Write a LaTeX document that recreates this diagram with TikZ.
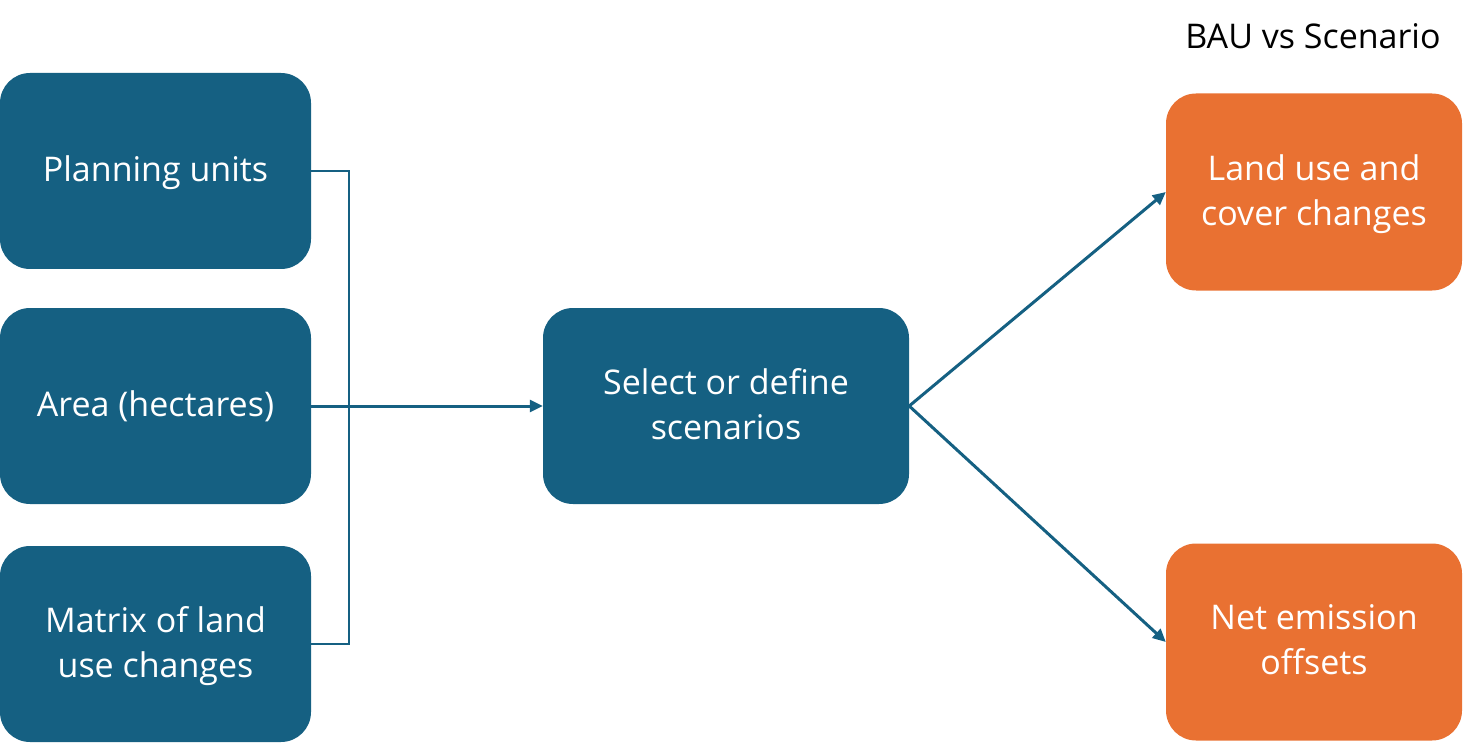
\documentclass[tikz,border=0pt]{standalone}
\usepackage{fontspec}
\setmainfont{Open Sans}
\usetikzlibrary{arrows.meta}
\definecolor{deepblue}{HTML}{156082}
\definecolor{warmorange}{HTML}{E97132}
\begin{document}
\begin{tikzpicture}[x=1pt,y=-1pt,
  card/.style={rounded corners=30pt, align=center, text=white,
    font=\fontsize{34}{45}\selectfont, inner sep=0pt, text depth=4pt},
  inbox/.style={card, fill=deepblue},
  outbox/.style={card, fill=warmorange},
  link/.style={draw=deepblue, line width=3pt},
  flow/.style={link, -{Triangle[length=13pt,width=12pt]}}]
\useasboundingbox (0,0) rectangle (1469,743);
% input boxes
\node[inbox, minimum width=311pt, minimum height=196pt] (pu) at (155.5,171) {Planning units};
\node[inbox, minimum width=311pt, minimum height=196pt] (ar) at (155.5,406) {Area (hectares)};
\node[inbox, minimum width=311pt, minimum height=196pt] (mx) at (155.5,644) {Matrix of land\\use changes};
% scenario box
\node[inbox, minimum width=366pt, minimum height=196pt] (sc) at (726,406) {Select or define\\scenarios};
% result boxes
\node[outbox, minimum width=296pt, minimum height=197pt] (lu) at (1314,192) {Land use and\\cover changes};
\node[outbox, minimum width=296pt, minimum height=197pt] (ne) at (1314,642) {Net emission\\offsets};
\node[font=\fontsize{34}{40}\selectfont, anchor=center] (bau) at (1313,36) {BAU vs Scenario};
% bracket joining the inputs
\coordinate (bk) at (349,0);
\draw[link, line width=2.4pt] (pu.east) -- (pu.east -| bk) -- (mx.east -| bk) -- (mx.east);
\draw[flow] (ar.east) -- (sc.west);
\draw[flow] (sc.east) -- (lu.west);
\draw[flow] (sc.east) -- (ne.west);
\end{tikzpicture}
\end{document}
